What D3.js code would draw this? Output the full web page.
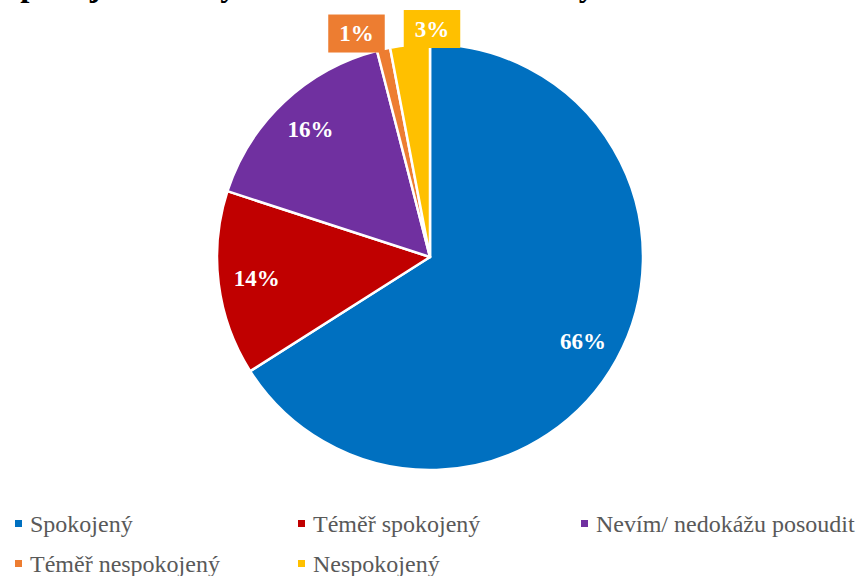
<!DOCTYPE html>
<html>
<head>
<meta charset="utf-8">
<script src="https://cdn.jsdelivr.net/npm/d3@7"></script>
<style>
  html, body { margin: 0; padding: 0; background: #fff; }
  svg { display: block; }
</style>
</head>
<body>
<svg id="chart" width="857" height="576"></svg>
<script>
const title = "Spokojenost s výukou a hodnocením školy";
const categories = ["Spokojený", "Téměř spokojený", "Nevím/ nedokážu posoudit", "Téměř nespokojený", "Nespokojený"];
const values = [66, 14, 16, 1, 3];
const colors = ["#0070C0", "#C00000", "#7030A0", "#ED7D31", "#FFC000"];

const W = 857, H = 576;
const cx = 430, cy = 257, R = 213;
const svg = d3.select("#chart");
const serif = "'Liberation Serif', 'Times New Roman', serif";

// Title (mostly cut off at top in the reference)
svg.append("text")
  .attr("x", 2).attr("y", -4)
  .attr("font-family", serif).attr("font-weight", "bold")
  .attr("font-size", 33).attr("fill", "#000")
  .text(title);

const data = categories.map((c, i) => ({ cat: c, value: values[i], color: colors[i] }));
const pie = d3.pie().sort(null).value(d => d.value);
const arcs = pie(data);
const arc = d3.arc().innerRadius(0).outerRadius(R);
const total = d3.sum(values);

const g = svg.append("g").attr("transform", `translate(${cx},${cy})`);
g.selectAll("path.slice").data(arcs).enter().append("path")
  .attr("class", "slice")
  .attr("d", arc)
  .attr("fill", d => d.data.color)
  .attr("stroke", "#fff").attr("stroke-width", 2.5)
  .attr("stroke-linejoin", "round");

const fmt = d => Math.round(d.value / total * 100) + "%";
const inner = arcs.filter(d => d.value / total >= 0.05);
const outer = arcs.filter(d => d.value / total < 0.05);

const labelArc = d3.arc().innerRadius(R * 0.82).outerRadius(R * 0.82);
g.selectAll("text.inlabel").data(inner).enter().append("text")
  .attr("class", "inlabel")
  .attr("x", d => labelArc.centroid(d)[0])
  .attr("y", d => labelArc.centroid(d)[1])
  .attr("text-anchor", "middle").attr("dominant-baseline", "central")
  .attr("font-family", serif).attr("font-weight", "bold")
  .attr("font-size", 23).attr("fill", "#fff")
  .text(fmt);

// Outside labels in coloured boxes, spread apart horizontally when they collide
const outArc = d3.arc().innerRadius(R + 16).outerRadius(R + 16);
const fontSize = 23, padX = 11, boxH = 38, gap = 19;
const outs = outer.map(d => {
  const [x, y] = outArc.centroid(d);
  return { d, x, y, text: fmt(d) };
});
const tmp = g.append("text").attr("font-family", serif).attr("font-weight", "bold").attr("font-size", fontSize);
outs.forEach(o => { tmp.text(o.text); o.w = tmp.node().getComputedTextLength() + 2 * padX; });
tmp.remove();
outs.sort((a, b) => a.x - b.x);
for (let iter = 0; iter < 20; iter++) {
  for (let i = 0; i < outs.length - 1; i++) {
    const a = outs[i], b = outs[i + 1];
    const need = a.w / 2 + b.w / 2 + gap;
    const have = b.x - a.x;
    if (have < need) {
      const push = (need - have) / 2;
      a.x -= push; b.x += push;
    }
  }
}
const og = g.selectAll("g.outlabel").data(outs).enter().append("g").attr("class", "outlabel")
  .attr("transform", o => `translate(${o.x},${o.y})`);
og.append("rect")
  .attr("x", o => -o.w / 2).attr("y", -boxH / 2)
  .attr("width", o => o.w).attr("height", boxH)
  .attr("fill", o => o.d.data.color);
og.append("text")
  .attr("text-anchor", "middle").attr("dominant-baseline", "central")
  .attr("font-family", serif).attr("font-weight", "bold")
  .attr("font-size", fontSize).attr("fill", "#fff")
  .text(o => o.text);

// Legend
const colX = [15, 298, 581];
const rowY = [532, 572];
const lg = svg.selectAll("g.legend").data(data).enter().append("g").attr("class", "legend")
  .attr("transform", (d, i) => `translate(${colX[i % 3]},${rowY[Math.floor(i / 3)]})`);
lg.append("rect").attr("x", 0).attr("y", -12).attr("width", 7).attr("height", 7)
  .attr("fill", d => d.color);
lg.append("text").attr("x", 15).attr("y", 0)
  .attr("font-family", serif).attr("font-size", 24).attr("fill", "#595959")
  .text(d => d.cat);
</script>
</body>
</html>
